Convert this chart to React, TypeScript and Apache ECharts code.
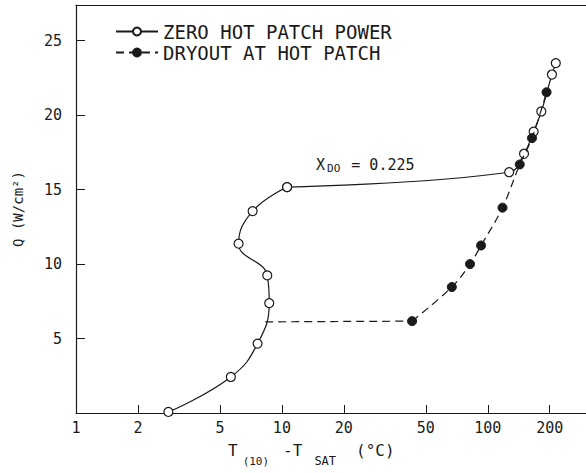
import React, { useEffect, useRef } from "react";
import * as echarts from "echarts";

// Zero hot patch power (open circles)
const zeroT = [2.81, 5.65, 7.62, 8.68, 8.49, 6.16, 7.21, 10.6, 127, 150, 167, 182, 205, 214];
const zeroQ = [0.07, 2.42, 4.66, 7.38, 9.24, 11.37, 13.56, 15.17, 16.17, 17.41, 18.9, 20.25, 22.73, 23.5];
// Dryout at hot patch (filled circles)
const dryT = [42.9, 66.9, 82.0, 92.8, 117.9, 143, 164, 193];
const dryQ = [6.17, 8.46, 10.0, 11.25, 13.79, 16.69, 18.46, 21.54];
// dashed lead-in from the solid curve to the first dryout point
const leadT = [8.3, 42.9];
const leadQ = [6.12, 6.17];

const xTicks = [1, 2, 5, 10, 20, 50, 100, 200];
const yTicks = [5, 10, 15, 20, 25];

const FONT = "DejaVu Sans Mono";
const INK = "#1a1a1a";
const NAME_ZERO = "ZERO HOT PATCH POWER";
const NAME_DRY = "DRYOUT AT HOT PATCH";

export default function App() {
  const ref = useRef<HTMLDivElement>(null);
  useEffect(() => {
    document.body.style.margin = "0";
    const chart = echarts.init(ref.current!, null, { renderer: "svg" });
    const zeroData = zeroT.map((t, i) => [t, zeroQ[i]]);
    const zeroLower = zeroData.slice(0, 8);
    const zeroUpper = zeroData.slice(7);
    const dryData = dryT.map((t, i) => [t, dryQ[i]]);
    const leadData = leadT.map((t, i) => [t, leadQ[i]]);
    const zeroStyle = {
      type: "line",
      name: NAME_ZERO,
      symbol: "circle",
      symbolSize: 9,
      lineStyle: { color: INK, width: 1.2 },
      itemStyle: { color: "#ffffff", borderColor: INK, borderWidth: 1.2 },
      z: 3,
    };
    chart.setOption({
      animation: false,
      backgroundColor: "#ffffff",
      grid: { left: 76, top: 5, right: 0, bottom: 60 },
      legend: {
        orient: "vertical",
        left: 110,
        top: 17,
        itemWidth: 42,
        itemHeight: 10,
        itemGap: 2,
        data: [NAME_ZERO, NAME_DRY],
        textStyle: { fontFamily: FONT, fontSize: 19, color: INK },
      },
      xAxis: [
        {
          type: "log",
          logBase: 10,
          min: 1,
          max: 300,
          axisLine: { show: true, lineStyle: { color: INK, width: 1.2 } },
          axisTick: { show: true, inside: true, length: 8, customValues: xTicks, lineStyle: { color: INK } },
          minorTick: { show: false },
          axisLabel: {
            customValues: xTicks,
            formatter: (v: number) => String(Math.round(v)),
            margin: 7,
            fontFamily: FONT,
            fontSize: 15,
            color: INK,
          },
          splitLine: { show: false },
        },
        {
          type: "log",
          logBase: 10,
          min: 1,
          max: 300,
          position: "top",
          axisLine: { show: true, lineStyle: { color: INK, width: 1.2 } },
          axisTick: { show: false },
          axisLabel: { show: false },
          splitLine: { show: false },
        },
      ],
      yAxis: {
        type: "value",
        min: 0,
        max: 27.4,
        name: "Q (W/cm²)",
        nameLocation: "middle",
        nameGap: 51,
        nameRotate: 90,
        nameTextStyle: { fontFamily: FONT, fontSize: 14, color: INK },
        axisLine: { show: true, lineStyle: { color: INK, width: 1.2 } },
        axisTick: { show: true, inside: true, length: 9, customValues: yTicks, lineStyle: { color: INK } },
        axisLabel: { customValues: yTicks, margin: 14, fontFamily: FONT, fontSize: 15, color: INK },
        splitLine: { show: false },
      },
      graphic: [
        {
          type: "text",
          left: 316,
          top: 157,
          style: {
            text: "{a|X}{s|DO}{a| = 0.225}",
            rich: {
              a: { fontFamily: FONT, fontSize: 15, fill: INK },
              s: { fontFamily: FONT, fontSize: 11, fill: INK, padding: [8, 2, 0, 2] },
            },
          },
        },
        {
          type: "text",
          left: 228,
          top: 442,
          style: {
            text: "{a|T}{s|(10)}{b|-T}{s2|SAT}{c|(°C)}",
            rich: {
              a: { fontFamily: FONT, fontSize: 16, fill: INK },
              b: { fontFamily: FONT, fontSize: 16, fill: INK, padding: [0, 0, 0, 14] },
              c: { fontFamily: FONT, fontSize: 16, fill: INK, padding: [0, 0, 0, 20] },
              s: { fontFamily: FONT, fontSize: 11, fill: INK, padding: [22, 0, 0, 5] },
              s2: { fontFamily: FONT, fontSize: 12, fill: INK, padding: [22, 0, 0, 12] },
            },
          },
        },
      ],
      series: [
        { ...zeroStyle, data: zeroLower, smooth: 0.45 },
        { ...zeroStyle, data: zeroUpper, smooth: 0.4 },
        {
          name: NAME_DRY,
          type: "line",
          data: dryData,
          smooth: 0.35,
          symbol: "circle",
          symbolSize: 9,
          lineStyle: { color: INK, width: 1.2, type: [8, 5] },
          itemStyle: { color: INK, borderColor: INK, borderWidth: 1 },
          z: 4,
        },
        {
          name: NAME_DRY,
          type: "line",
          data: leadData,
          smooth: false,
          showSymbol: false,
          symbol: "none",
          lineStyle: { color: INK, width: 1.2, type: [8, 5] },
          z: 2,
        },
      ],
    });
    return () => chart.dispose();
  }, []);
  return <div ref={ref} style={{ width: 586, height: 473 }} />;
}
